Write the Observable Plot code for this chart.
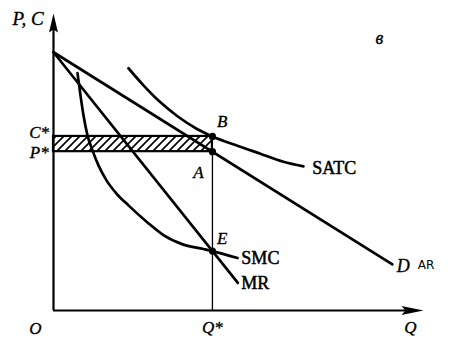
<!DOCTYPE html>
<html>
<head>
<meta charset="utf-8">
<script src="https://cdn.jsdelivr.net/npm/d3@7"></script>
<script src="https://cdn.jsdelivr.net/npm/@observablehq/plot@0.6"></script>
<style>
  html, body { margin: 0; padding: 0; background: #fff; }
  #chart { width: 454px; height: 338px; }
</style>
</head>
<body>
<div id="chart"></div>
<script>
// ---- data (arbitrary economic units) ----
const qStar = 5;
const pStar = 6.15;
const cStar = 6.74;
const eLevel = 2.3;
const xMax = 11.64;
const yMax = 11.5;

const demandQ = [0, 10.66];
const demandP = [10, 1.79];
const mrQ = [0, 5.8];
const mrP = [10, 1.07];

const smcQ = [0.755, 0.849, 0.943, 1.069, 1.226, 1.415, 1.667, 1.981, 2.358, 2.956, 3.459, 4.088, 4.72, 5.0, 5.79];
const smcP = [9.19, 8.33, 7.56, 6.78, 6.20, 5.62, 5.04, 4.53, 4.07, 3.41, 2.92, 2.55, 2.38, 2.3, 2.03];

const satcQ = [2.358, 2.830, 3.365, 3.899, 4.528, 5.0, 5.786, 6.509, 7.233, 7.862];
const satcP = [9.38, 8.72, 8.06, 7.52, 7.02, 6.74, 6.38, 6.07, 5.76, 5.58];

const pointNames = ["A", "B", "E"];
const pointQ = [qStar, qStar, qStar];
const pointP = [pStar, cStar, eLevel];

const italicLabels = ["P, C", "в", "C*", "P*", "B", "A", "E", "D", "O", "Q*", "Q"];
const italicX = [-0.80, 10.25, -0.45, -0.45, 5.31, 4.56, 5.31, 11.0, -0.57, 5.0, 11.23];
const italicY = [11.28, 10.54, 6.9, 6.12, 7.33, 5.35, 2.79, 1.7, -0.68, -0.66, -0.66];
const italicSize = [19, 18, 17, 17, 17, 17, 17, 18, 17, 17, 17];

const curveLabels = ["SMC", "MR", "SATC"];
const curveLabelX = [5.91, 5.91, 8.14];
const curveLabelY = [2.02, 1.05, 5.5];

const arLabel = ["AR"];
const arX = [11.72];
const arY = [1.74];

// ---- build tables ----
const zip = (a, b) => a.map((v, i) => ({x: v, y: b[i]}));
const demand = zip(demandQ, demandP);
const mr = zip(mrQ, mrP);
const smc = zip(smcQ, smcP);
const satc = zip(satcQ, satcP);
const points = pointNames.map((n, i) => ({name: n, x: pointQ[i], y: pointP[i]}));
const itLabels = italicLabels.map((t, i) => ({t, x: italicX[i], y: italicY[i], s: italicSize[i]}));
const cLabels = curveLabels.map((t, i) => ({t, x: curveLabelX[i], y: curveLabelY[i]}));
const arLabels = arLabel.map((t, i) => ({t, x: arX[i], y: arY[i]}));

const upArrow = {
  draw(ctx) {
    ctx.moveTo(0, 0); ctx.lineTo(4.5, 19); ctx.lineTo(0, 16); ctx.lineTo(-4.5, 19); ctx.closePath();
  }
};
const rightArrow = {
  draw(ctx) {
    ctx.moveTo(0, 0); ctx.lineTo(-22, -4.5); ctx.lineTo(-18, 0); ctx.lineTo(-22, 4.5); ctx.closePath();
  }
};

const serif = "'Liberation Serif', 'DejaVu Serif', serif";

const chart = Plot.plot({
  width: 454,
  height: 338,
  marginLeft: 53,
  marginRight: 31,
  marginTop: 13,
  marginBottom: 28,
  x: {domain: [0, xMax], axis: null},
  y: {domain: [0, yMax], axis: null},
  style: {background: "#fff", overflow: "visible"},
  marks: [
    // hatched area
    Plot.rect([{x1: 0, x2: qStar, y1: pStar, y2: cStar}], {
      x1: "x1", x2: "x2", y1: "y1", y2: "y2",
      fill: "url(#hatch)", stroke: "#000", strokeWidth: 2.2
    }),
    // Q* vertical line
    Plot.ruleX([qStar], {y1: 0, y2: pStar, stroke: "#000", strokeWidth: 1.3}),
    // axes
    Plot.ruleY([0], {x1: 0, x2: xMax - 0.3, stroke: "#000", strokeWidth: 2.2}),
    Plot.ruleX([0], {y1: 0, y2: yMax - 0.3, stroke: "#000", strokeWidth: 2.2}),
    Plot.dot([{x: 0, y: yMax}], {x: "x", y: "y", symbol: upArrow, fill: "#000", stroke: null}),
    Plot.dot([{x: xMax, y: 0}], {x: "x", y: "y", symbol: rightArrow, fill: "#000", stroke: null}),
    // curves
    Plot.line(demand, {x: "x", y: "y", stroke: "#000", strokeWidth: 2.7}),
    Plot.line(mr, {x: "x", y: "y", stroke: "#000", strokeWidth: 2.7}),
    Plot.line(smc, {x: "x", y: "y", stroke: "#000", strokeWidth: 2.7, curve: "monotone-x"}),
    Plot.line(satc, {x: "x", y: "y", stroke: "#000", strokeWidth: 2.7, curve: "monotone-x"}),
    // points
    Plot.dot(points, {x: "x", y: "y", r: 3.6, fill: "#000", stroke: null}),
    // labels
    Plot.text(itLabels, {
      x: "x", y: "y", text: "t", fontSize: d => d.s,
      fontFamily: serif, fontStyle: "italic", fill: "#000",
      stroke: "#000", strokeWidth: 0.35
    }),
    Plot.text(cLabels, {
      x: "x", y: "y", text: "t", fontSize: 18, textAnchor: "start",
      fontFamily: serif, fill: "#000", stroke: "#000", strokeWidth: 0.5
    }),
    Plot.text(arLabels, {
      x: "x", y: "y", text: "t", fontSize: 12,
      fontFamily: "'DejaVu Sans', sans-serif", fill: "#000"
    })
  ]
});

// hatch pattern definition
const defs = d3.select(chart).insert("defs", ":first-child");
const pat = defs.append("pattern")
  .attr("id", "hatch")
  .attr("patternUnits", "userSpaceOnUse")
  .attr("width", 8).attr("height", 8);
pat.append("rect").attr("width", 8).attr("height", 8).attr("fill", "#fff");
pat.append("path")
  .attr("d", "M-2,10 L10,-2 M-2,2 L2,-2 M6,10 L10,6")
  .attr("stroke", "#000").attr("stroke-width", 1.6);

document.getElementById("chart").appendChild(chart);
</script>
</body>
</html>
